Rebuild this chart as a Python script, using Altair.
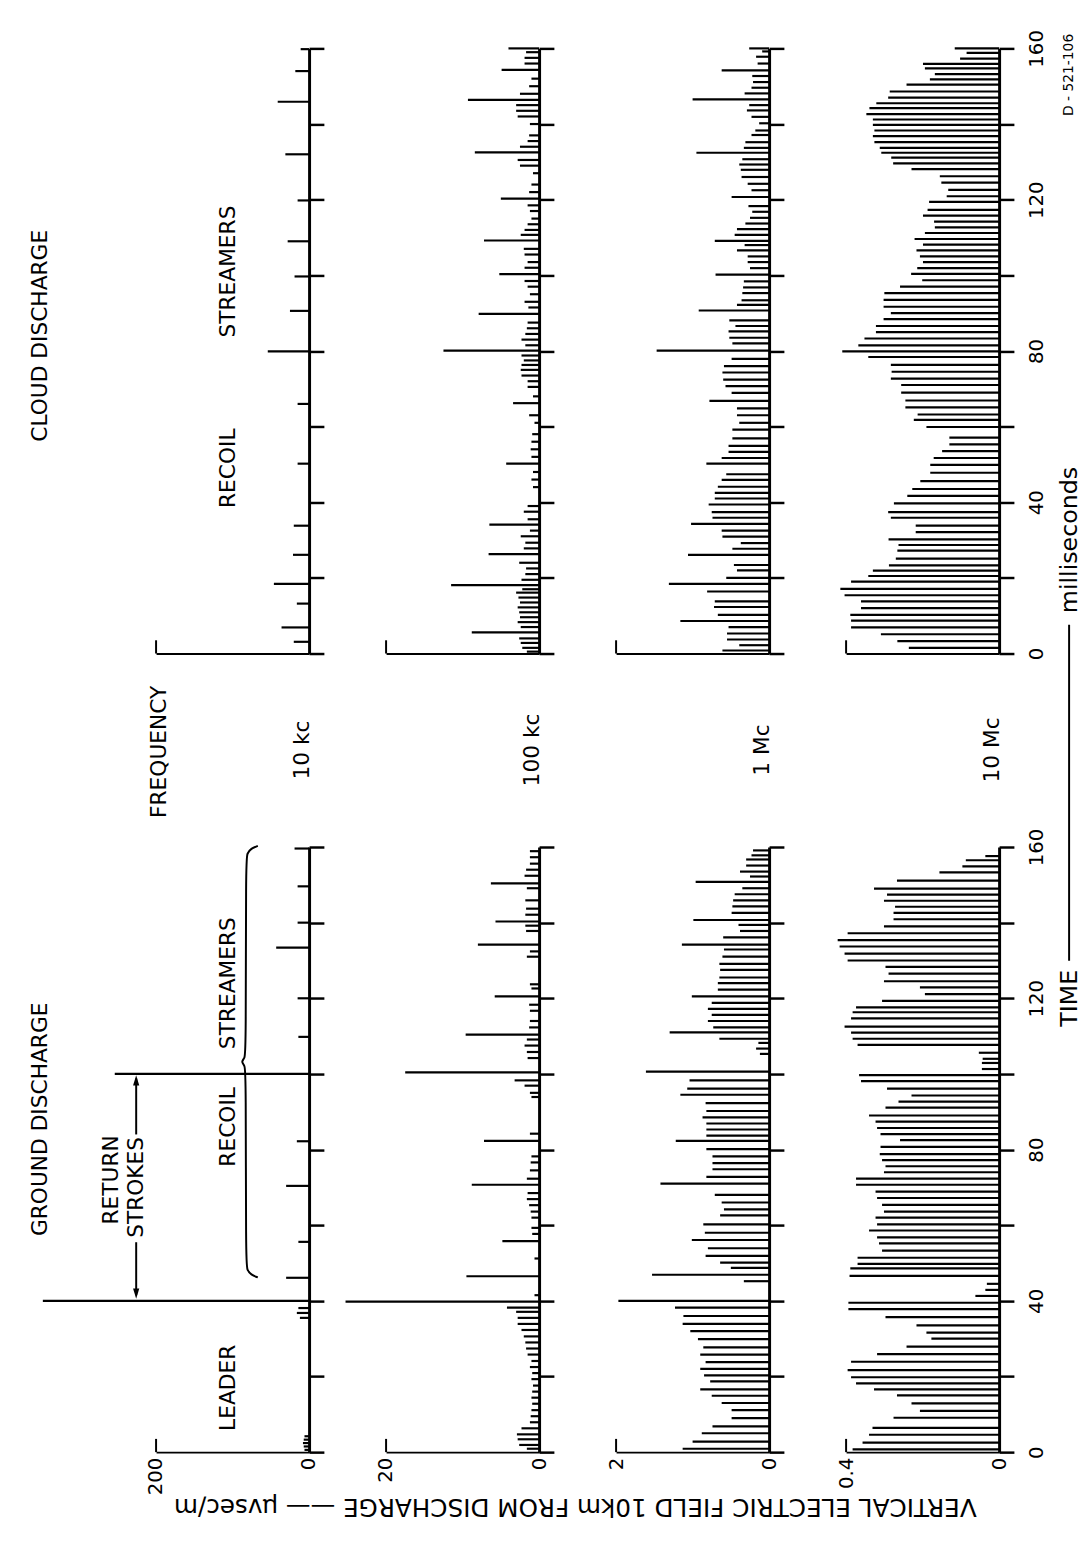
import altair as alt
import pandas as pd

FONT = "DejaVu Sans"

# ---------------- data (time in ms, amplitude in panel units) ----------------
ground_10kc = [(0.6, 6), (1.5, 7), (2.4, 8), (3.3, 7), (4.2, 6), (35.5, 12), (36.8, 16), (38.1, 14),
               (40.0, 348), (46.1, 30), (55.6, 14), (70.4, 30), (82.2, 16), (100.0, 254), (109.8, 14),
               (120.0, 15), (133.4, 43), (140.0, 15), (149.6, 15), (159.6, 19)]

ground_100kc = [(0.9, 1.6), (1.9, 2.6), (3.4, 2.8), (4.7, 2.9), (6.3, 2.3), (7.9, 1.2), (9.5, 1.1), (11.1, 1.0),
                (12.8, 0.9), (14.4, 1.0), (16.0, 0.9), (17.6, 0.8), (19.3, 1.0), (20.9, 0.9), (22.5, 1.2),
                (24.1, 1.0), (25.8, 1.5), (27.4, 1.7), (29.0, 1.8), (30.6, 2.0), (32.3, 2.3), (33.9, 2.8),
                (35.5, 2.8), (37.1, 3.0), (38.2, 4.2), (39.8, 25.3), (41.5, 0.6), (46.5, 9.5), (51.2, 0.6),
                (55.8, 4.8), (57.7, 0.9), (59.3, 1.0), (62.0, 1.0), (63.6, 1.1), (65.3, 1.3), (66.9, 1.6),
                (68.5, 1.5), (70.7, 8.8), (72.3, 1.6), (74.5, 1.2), (76.6, 1.1), (78.2, 1.0), (82.3, 7.2),
                (84.2, 1.2), (93.9, 1.0), (95.0, 1.2), (96.9, 1.9), (98.3, 3.2), (100.4, 17.5), (104.2, 1.5),
                (105.8, 1.6), (107.5, 1.9), (109.1, 1.6), (110.4, 9.6), (112.3, 1.3), (114.0, 1.2),
                (116.7, 1.2), (118.3, 1.3), (120.5, 5.8), (122.6, 1.0), (123.7, 1.2), (131.0, 1.6),
                (132.4, 1.2), (134.2, 8.0), (137.8, 1.7), (139.2, 1.8), (140.3, 5.7), (142.1, 1.8),
                (143.7, 1.7), (145.9, 1.8), (149.1, 1.6), (150.4, 6.3), (152.4, 1.9), (154.0, 1.7),
                (155.6, 1.2), (157.3, 1.2), (158.9, 1.2)]

ground_1Mc = [(0.9, 1.13), (2.8, 1.0), (5.0, 0.88), (6.8, 0.74), (9.0, 0.49), (11.1, 0.49), (13.0, 0.62),
              (14.9, 0.75), (16.6, 0.9), (18.7, 0.77), (20.3, 0.85), (22.0, 0.9), (23.8, 0.83), (25.8, 0.9),
              (27.7, 0.86), (29.9, 0.93), (32.0, 1.03), (33.9, 1.13), (36.0, 1.12), (38.2, 1.23), (40.0, 1.97),
              (45.2, 0.33), (46.9, 1.53), (48.7, 0.5), (50.1, 0.64), (51.9, 0.83), (53.9, 0.8), (56.1, 1.01),
              (58.0, 0.84), (60.2, 0.86), (62.6, 0.64), (64.2, 0.59), (66.0, 0.62), (68.0, 0.71), (71.0, 1.42),
              (72.8, 0.82), (74.8, 0.74), (76.4, 0.74), (78.2, 0.74), (80.1, 0.82), (82.3, 1.22), (83.7, 0.82),
              (85.3, 0.82), (86.9, 0.82), (88.5, 0.87), (90.2, 0.82), (92.3, 0.83), (94.5, 1.16), (96.1, 1.07),
              (98.3, 1.04), (100.6, 1.61), (105.3, 0.12), (106.7, 0.17), (108.2, 0.14), (109.3, 0.65),
              (111.0, 1.3), (112.3, 0.73), (114.0, 0.8), (115.6, 0.75), (117.2, 0.8), (118.8, 0.75),
              (120.5, 1.01), (122.3, 0.67), (124.0, 0.67), (125.5, 0.65), (127.5, 0.64), (129.1, 0.65),
              (131.0, 0.61), (132.9, 0.59), (134.2, 1.14), (136.1, 0.6), (137.8, 0.38), (139.4, 0.4),
              (140.7, 0.99), (142.6, 0.49), (144.3, 0.48), (145.9, 0.47), (147.5, 0.45), (149.1, 0.35),
              (150.8, 0.96), (152.2, 0.25), (153.5, 0.38), (155.1, 0.3), (156.7, 0.3), (157.8, 0.23),
              (159.1, 0.21)]

ground_10Mc = [(0.75, 0.383), (2.5, 0.357), (4.6, 0.34), (6.4, 0.331), (9.1, 0.276), (10.9, 0.207),
               (12.9, 0.229), (15.0, 0.267), (16.6, 0.327), (18.2, 0.374), (19.8, 0.387), (21.7, 0.396),
               (23.9, 0.387), (25.9, 0.319), (27.9, 0.242), (30.0, 0.177), (31.6, 0.19), (33.5, 0.216),
               (35.7, 0.297), (37.8, 0.394), (39.5, 0.394), (41.3, 0.062), (42.9, 0.036), (44.5, 0.032),
               (46.6, 0.391), (48.6, 0.389), (49.8, 0.37), (51.4, 0.37), (53.3, 0.306), (55.2, 0.314),
               (56.8, 0.319), (58.6, 0.34), (60.2, 0.319), (62.0, 0.323), (63.6, 0.301), (65.4, 0.306),
               (67.2, 0.319), (68.9, 0.323), (70.7, 0.374), (72.3, 0.374), (74.0, 0.301), (75.6, 0.297),
               (77.2, 0.306), (78.8, 0.312), (80.7, 0.31), (82.5, 0.259), (84.1, 0.31), (85.7, 0.319),
               (87.4, 0.323), (89.0, 0.34), (91.1, 0.297), (92.7, 0.263), (94.3, 0.229), (96.1, 0.293),
               (98.1, 0.361), (99.7, 0.366), (101.3, 0.045), (102.9, 0.045), (104.0, 0.043), (105.6, 0.053),
               (107.7, 0.37), (109.3, 0.383), (110.9, 0.387), (112.5, 0.404), (114.7, 0.387), (116.3, 0.383),
               (117.6, 0.374), (119.3, 0.306), (121.1, 0.194), (122.9, 0.207), (124.5, 0.301), (126.5, 0.289),
               (128.3, 0.297), (130.0, 0.396), (131.8, 0.404), (133.7, 0.417), (135.4, 0.422), (137.2, 0.396),
               (139.0, 0.301), (140.9, 0.276), (142.6, 0.276), (144.2, 0.272), (145.8, 0.301), (147.4, 0.293),
               (149.0, 0.327), (151.1, 0.267), (153.3, 0.156), (154.9, 0.096), (156.5, 0.087), (157.6, 0.036)]

cloud_10kc = [(3.1, 20), (6.9, 36), (13.2, 16), (18.4, 46), (26.1, 21), (33.8, 20), (50.2, 15), (66.0, 15),
              (79.9, 54), (90.6, 25), (99.7, 19), (109.0, 28), (119.8, 15), (132.0, 31), (145.9, 41),
              (154.0, 18), (159.8, 11)]

cloud_100kc = [(0.5, 1.6), (1.5, 2.2), (2.8, 2.4), (4.0, 2.6), (5.6, 8.8), (7.0, 2.4), (8.3, 2.8), (9.6, 2.5),
               (10.9, 2.6), (12.2, 2.8), (13.5, 2.5), (14.8, 2.7), (16.1, 3.0), (17.0, 2.2), (18.1, 11.5),
               (19.5, 2.3), (21.0, 1.8), (22.5, 1.7), (24.0, 2.6), (26.3, 6.6), (27.8, 2.0), (29.3, 1.8),
               (31.0, 2.4), (32.5, 1.2), (34.1, 6.5), (35.5, 1.5), (37.5, 2.0), (39.0, 1.5), (44.0, 0.8),
               (46.0, 1.0), (48.0, 0.8), (50.2, 4.3), (52.0, 1.0), (54.0, 1.1), (56.0, 1.0), (58.0, 0.9),
               (61.0, 0.6), (63.0, 1.3), (66.2, 3.4), (68.0, 0.8), (70.5, 1.5), (72.0, 1.5), (73.5, 2.3),
               (75.0, 2.4), (76.3, 2.3), (77.5, 2.0), (78.8, 2.3), (80.1, 12.5), (81.5, 1.8), (83.0, 2.3),
               (84.5, 1.8), (86.0, 1.6), (87.5, 1.5), (89.8, 7.9), (91.5, 1.4), (93.0, 1.9), (95.0, 1.2),
               (97.0, 1.5), (98.5, 1.9), (100.3, 5.2), (102.0, 1.9), (103.5, 1.5), (105.5, 1.9), (107.0, 2.0),
               (109.2, 7.2), (110.7, 2.4), (112.0, 1.9), (113.5, 1.5), (115.0, 1.0), (117.0, 1.2), (118.5, 1.5),
               (120.3, 5.0), (122.0, 1.3), (124.0, 1.0), (127.0, 0.8), (129.0, 2.5), (130.5, 2.8), (132.5, 8.4),
               (134.0, 2.5), (135.5, 1.5), (137.0, 1.3), (140.0, 1.2), (142.0, 2.8), (143.5, 3.0), (145.0, 3.0),
               (146.4, 9.3), (148.0, 2.5), (150.0, 1.3), (152.0, 1.0), (154.3, 4.9), (156.0, 1.9), (157.5, 1.9),
               (159.0, 1.7), (160.0, 4.0)]

cloud_1Mc = [(0.8, 0.61), (2.2, 0.39), (3.7, 0.55), (5.3, 0.55), (7.0, 0.53), (8.6, 1.16), (10.2, 0.67),
             (12.3, 0.72), (13.8, 0.71), (16.4, 0.81), (18.4, 1.31), (20.0, 0.56), (22.0, 0.42), (23.4, 0.46),
             (26.1, 1.06), (27.7, 0.48), (29.2, 0.37), (30.9, 0.61), (32.5, 0.62), (34.3, 1.02), (35.9, 0.74),
             (37.4, 0.75), (39.4, 0.79), (41.0, 0.71), (42.5, 0.71), (44.1, 0.67), (45.9, 0.62), (47.4, 0.56),
             (50.2, 0.82), (51.7, 0.62), (53.3, 0.53), (54.9, 0.53), (56.9, 0.48), (59.2, 0.48), (61.0, 0.39),
             (63.0, 0.42), (64.8, 0.42), (66.8, 0.78), (68.9, 0.49), (70.7, 0.57), (72.4, 0.60), (74.3, 0.61),
             (76.0, 0.59), (77.9, 0.49), (80.1, 1.47), (82.0, 0.48), (83.5, 0.52), (85.2, 0.53), (86.6, 0.44),
             (88.1, 0.52), (90.7, 0.92), (92.2, 0.42), (93.4, 0.36), (95.3, 0.35), (96.8, 0.34), (98.4, 0.33),
             (100.2, 0.70), (101.9, 0.25), (103.5, 0.28), (105.0, 0.28), (106.6, 0.42), (108.0, 0.32),
             (109.1, 0.71), (110.7, 0.45), (112.2, 0.42), (113.7, 0.31), (115.2, 0.25), (116.8, 0.22),
             (118.3, 0.27), (120.7, 0.49), (122.5, 0.23), (124.2, 0.28), (126.0, 0.36), (127.9, 0.37),
             (129.3, 0.39), (130.7, 0.35), (132.4, 0.95), (133.7, 0.33), (135.2, 0.31), (137.1, 0.23),
             (138.3, 0.18), (140.2, 0.13), (141.9, 0.23), (143.6, 0.29), (145.0, 0.26), (146.5, 1.0),
             (148.1, 0.32), (149.6, 0.23), (151.1, 0.21), (152.7, 0.22), (154.2, 0.62), (156.0, 0.15),
             (157.8, 0.17), (159.2, 0.09), (160.0, 0.26)]

cloud_10Mc = [(1.5, 0.236), (3.3, 0.266), (5.1, 0.309), (6.9, 0.387), (8.7, 0.387), (10.2, 0.389), (12.0, 0.361),
              (13.8, 0.361), (15.4, 0.404), (17.1, 0.415), (19.0, 0.387), (20.5, 0.342), (21.9, 0.33),
              (23.3, 0.288), (25.1, 0.27), (27.2, 0.266), (28.7, 0.263), (30.2, 0.289), (32.1, 0.218),
              (33.8, 0.218), (35.9, 0.283), (37.4, 0.29), (39.7, 0.275), (41.7, 0.24), (43.5, 0.227),
              (45.6, 0.206), (47.8, 0.18), (49.9, 0.18), (51.7, 0.171), (53.5, 0.149), (55.3, 0.13),
              (57.1, 0.13), (59.9, 0.19), (61.8, 0.223), (63.2, 0.213), (65.1, 0.245), (66.9, 0.245),
              (69.0, 0.256), (71.0, 0.256), (72.7, 0.283), (74.5, 0.281), (76.3, 0.283), (78.4, 0.342),
              (79.9, 0.41), (81.5, 0.368), (83.3, 0.352), (85.0, 0.322), (86.6, 0.322), (88.4, 0.302),
              (90.0, 0.283), (91.7, 0.302), (93.5, 0.302), (95.3, 0.30), (97.0, 0.259), (98.7, 0.201),
              (100.4, 0.23), (101.9, 0.214), (103.5, 0.199), (105.0, 0.207), (106.6, 0.216), (108.1, 0.199),
              (109.6, 0.221), (111.2, 0.194), (112.7, 0.168), (114.2, 0.17), (115.8, 0.199), (117.3, 0.187),
              (119.4, 0.183), (120.9, 0.137), (122.6, 0.133), (124.5, 0.151), (126.2, 0.155), (128.1, 0.229),
              (129.6, 0.277), (131.1, 0.282), (132.4, 0.308), (133.7, 0.312), (135.2, 0.326), (136.8, 0.33),
              (138.3, 0.326), (139.8, 0.33), (141.2, 0.33), (142.6, 0.347), (144.2, 0.339), (145.5, 0.321),
              (147.0, 0.29), (148.6, 0.286), (150.4, 0.242), (151.8, 0.181), (153.2, 0.168), (154.7, 0.194),
              (155.9, 0.199), (157.3, 0.102), (158.8, 0.085), (160.0, 0.116)]

bands = ["10kc", "100kc", "1Mc", "10Mc"]
band_labels = ["10 kc", "100 kc", "1 Mc", "10 Mc"]
full_scale = [200, 20, 2, 0.4]
time_ticks = [0, 20, 40, 60, 80, 100, 120, 140, 160]

W, H = 155, 613


def make_axes(fs, ground, last):
    xs = alt.Scale(domain=[0, fs], reverse=True, nice=False, zero=False)
    ys = alt.Scale(domain=[0, 160], nice=False, zero=False)
    x_axis = alt.Axis(values=[0, fs], orient="bottom", domain=True, domainColor="black", domainWidth=2,
                      ticks=False, labels=ground, labelAngle=270, labelAlign="right",
                      labelBaseline="middle", labelFontSize=20, labelFont=FONT, labelColor="black",
                      labelPadding=5, format="~f", grid=False, title=None)
    y_axis = alt.Axis(values=time_ticks, orient="right", domain=True, domainColor="black", domainWidth=3,
                      ticks=True, tickColor="black", tickWidth=2.5, tickSize=15, labels=last,
                      labelExpr="datum.value % 40 === 0 ? datum.label : ''", labelAngle=270,
                      labelAlign="center", labelBaseline="top", labelPadding=13, labelFontSize=20,
                      labelFont=FONT, labelColor="black", grid=False, title=None)
    return xs, ys, x_axis, y_axis


def enc(ax, xfield="a:Q", yfield="t:Q"):
    xs, ys, x_axis, y_axis = ax
    return dict(x=alt.X(xfield, scale=xs, axis=x_axis), y=alt.Y(yfield, scale=ys, axis=y_axis))


def text_layer(ax, rows, size=22, angle=270):
    df = pd.DataFrame(rows, columns=["a", "t", "label"])
    return alt.Chart(df).mark_text(font=FONT, fontSize=size, angle=angle, color="black",
                                   align="center", baseline="middle").encode(text="label:N", **enc(ax))


def rule_layer(ax, a, t0, t1, width=2):
    df = pd.DataFrame({"a": a, "t": t0, "t1": t1})
    return alt.Chart(df).mark_rule(color="black", strokeWidth=width).encode(y2="t1", **enc(ax))


def panel(pairs, i, ground, last, extras=lambda ax: []):
    fs = full_scale[i]
    ax = make_axes(fs, ground, last)
    df = pd.DataFrame(pairs, columns=["t", "a"])
    df["z"] = 0.0
    spikes = alt.Chart(df).mark_rule(color="black", strokeWidth=2.2).encode(x2=alt.X2("z"), **enc(ax))
    bracket = rule_layer(ax, [fs], [0.0], [3.5])
    return alt.layer(spikes, bracket, *extras(ax)).properties(width=W, height=H)


# ---------------- annotations ----------------
def ground_10kc_extras(ax):
    brace = pd.DataFrame([(160.3, 67), (159.6, 76), (158.3, 81), (156.5, 82.6), (106, 82.6), (104.2, 84),
                          (103.2, 89), (102.2, 84), (100.5, 82.6), (50, 82.6), (48.2, 81), (46.9, 76),
                          (46.2, 67)], columns=["t", "a"])
    brace["i"] = range(len(brace))
    brace_layer = alt.Chart(brace).mark_line(color="black", strokeWidth=2, interpolate="basis").encode(
        order="i:Q", **enc(ax))
    arrows = rule_layer(ax, [226, 226], [41.5, 84.0], [55.5, 98.8])
    head_dn = alt.Chart(pd.DataFrame({"a": [226], "t": [41.9]})).mark_point(
        shape="M -0.6 -1 L 0 1 L 0.6 -1 Z", filled=True, size=110, color="black", opacity=1).encode(**enc(ax))
    head_up = alt.Chart(pd.DataFrame({"a": [226], "t": [98.3]})).mark_point(
        shape="M -0.6 1 L 0 -1 L 0.6 1 Z", filled=True, size=110, color="black", opacity=1).encode(**enc(ax))
    labels = text_layer(ax, [(351, 88, "GROUND DISCHARGE"), (259, 72, "RETURN"), (226, 70, "STROKES"),
                             (106, 17, "LEADER"), (106, 86, "RECOIL"), (106, 124, "STREAMERS")])
    bottom = text_layer(ax, [(-348, -14.6, "VERTICAL ELECTRIC FIELD 10km FROM DISCHARGE —— μvsec/m")],
                        size=25, angle=180)
    return [brace_layer, arrows, head_dn, head_up, labels, bottom]


def cloud_10kc_extras(ax):
    return [text_layer(ax, [(351, 84, "CLOUD DISCHARGE"), (106, 49, "RECOIL"), (106, 101, "STREAMERS"),
                            (196, -26, "FREQUENCY"), (0.045 * full_scale[0], -25.5, band_labels[0])])]


def band_label_extras(i):
    return lambda ax: [text_layer(ax, [(0.045 * full_scale[i], -25.5, band_labels[i])])]


def cloud_10Mc_extras(ax):
    return [text_layer(ax, [(0.045 * full_scale[3], -25.5, band_labels[3])]),
            text_layer(ax, [(-0.185, 30, "milliseconds")], size=24),
            text_layer(ax, [(-0.182, 153, "D - 521-106")], size=14),
            rule_layer(ax, [-0.183], [7.6], [-81.2])]


def ground_10Mc_extras(ax):
    return [text_layer(ax, [(-0.185, 120, "TIME")], size=24)]


# ---------------- assemble ----------------
panels = [
    panel(cloud_10kc, 0, False, False, cloud_10kc_extras),
    panel(cloud_100kc, 1, False, False, band_label_extras(1)),
    panel(cloud_1Mc, 2, False, False, band_label_extras(2)),
    panel(cloud_10Mc, 3, False, True, cloud_10Mc_extras),
    panel(ground_10kc, 0, True, False, ground_10kc_extras),
    panel(ground_100kc, 1, True, False),
    panel(ground_1Mc, 2, True, False),
    panel(ground_10Mc, 3, True, True, ground_10Mc_extras),
]

chart = alt.concat(*panels, columns=4, spacing={"row": 196, "column": 78}, bounds="flush").properties(
    padding={"left": 21, "top": 11, "right": 2, "bottom": 5},
    background="white",
).configure_view(stroke=None)

chart.save("out.html", embed_options={"renderer": "svg", "actions": False})
